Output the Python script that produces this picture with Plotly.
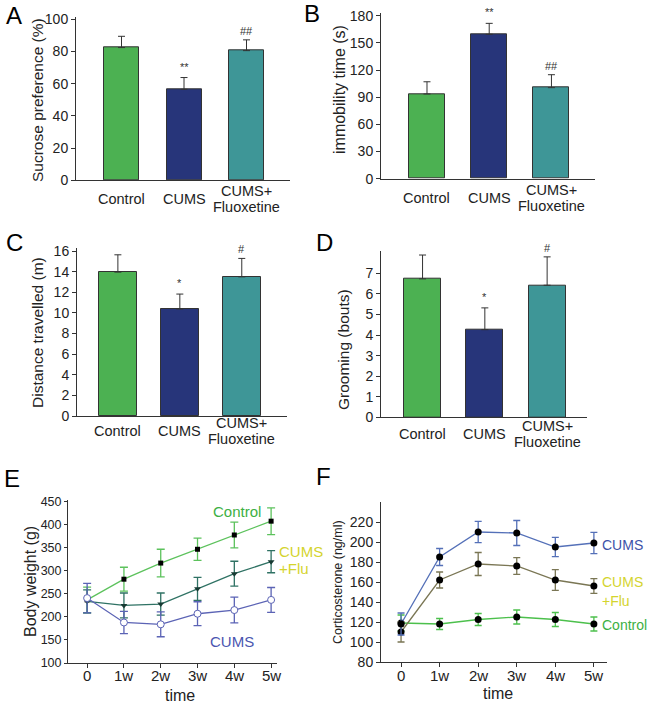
import plotly.graph_objects as go

W, H = 649, 703
def fx(p): return p / W
def fy(p): return 1 - p / H

FONT = "Liberation Sans, Arial, sans-serif"

# ---------------- data ----------------
groups = ["Control", "CUMS", "CUMS+ Fluoxetine"]
group_lines = [["Control"], ["CUMS"], ["CUMS+", "Fluoxetine"]]
bar_colors = ["#4cb152", "#27357a", "#3e9697"]

sucrose = [82.4, 56.5, 80.5]
sucrose_err = [7.0, 7.3, 6.7]
sucrose_sig = ["", "**", "##"]

immobility = [93.5, 159.4, 100.5]
immobility_err = [13.5, 12.1, 14.3]
immobility_sig = ["", "**", "##"]

distance = [13.96, 10.38, 13.5]
distance_err = [1.68, 1.45, 1.79]
distance_sig = ["", "*", "#"]

grooming = [6.73, 4.26, 6.42]
grooming_err = [1.16, 1.06, 1.38]
grooming_sig = ["", "*", "#"]

weeks = [0, 1, 2, 3, 4, 5]
week_labels = ["0", "1w", "2w", "3w", "4w", "5w"]

bw_control = [237, 282, 317, 347, 378, 408]
bw_control_err = [28, 26, 30, 24, 28, 29]
bw_flu = [234, 225, 228, 261, 294, 320]
bw_flu_err = [25, 27, 24, 25, 27, 24]
bw_cums = [241, 188, 184, 207, 215, 237]
bw_cums_err = [32, 24, 27, 26, 28, 27]

cort_cums = [118, 185, 210, 209, 195, 199]
cort_cums_err = [11, 8.5, 10.7, 12.5, 9.7, 10.7]
cort_flu = [110, 162, 178, 176, 162, 156]
cort_flu_err = [10, 8, 11.5, 8.3, 10.3, 7.3]
cort_control = [119, 118, 122.5, 125, 122.5, 118]
cort_control_err = [8, 5.5, 6, 7, 7, 7]

fig = go.Figure()
annotations = []
TXT = "#222"

axis_common = dict(showline=True, linecolor="#333", linewidth=1, showgrid=False,
                   zeroline=False, automargin=False)

def rot_title(text, xc, yc, size):
    return dict(x=fx(xc), y=fy(yc), xref="paper", yref="paper", text=text, textangle=-90,
                showarrow=False, xanchor="center", yanchor="middle",
                font=dict(family=FONT, size=size, color=TXT))

def ptext(text, xp, yp, size, color, xanchor="center"):
    return dict(x=fx(xp), y=fy(yp), xref="paper", yref="paper", text=text, showarrow=False,
                xanchor=xanchor, yanchor="middle", font=dict(family=FONT, size=size, color=color))

# ---------------- bar panels ----------------
bar_panels = [
    dict(n=1, v=sucrose, e=sucrose_err, s=sucrose_sig, xd=(76, 290), yd=(180.3, 17.3),
         xr=[-0.728, 2.696], yr=[0, 101.2], tv=[0, 20, 40, 60, 80, 100],
         title="Sucrose preference (%)", tx=37, ty=100, ts=15.5, ly=199, letter="A", lxy=(14, 15), bw=0.56),
    dict(n=2, v=immobility, e=immobility_err, s=immobility_sig, xd=(381, 595), yd=(178.7, 13.3),
         xr=[-0.739, 2.70], yr=[0, 182.6], tv=[0, 30, 60, 90, 120, 150, 180],
         title="immobility time (s)", tx=340, ty=90, ts=16, ly=198, letter="B", lxy=(312, 13), bw=0.58),
    dict(n=3, v=distance, e=distance_err, s=distance_sig, xd=(77, 287), yd=(416, 248),
         xr=[-0.66, 2.73], yr=[0, 16.3], tv=list(range(0, 17, 2)),
         title="Distance travelled (m)", tx=38, ty=333, ts=15.5, ly=431, letter="C", lxy=(14, 243), bw=0.61),
    dict(n=4, v=grooming, e=grooming_err, s=grooming_sig, xd=(381, 587), yd=(417.3, 250.7),
         xr=[-0.667, 2.64], yr=[0, 8.1], tv=list(range(0, 8)),
         title="Grooming (bouts)", tx=343, ty=350, ts=15.5, ly=434, letter="D", lxy=(324, 242), bw=0.59),
]

for p in bar_panels:
    n = p["n"]
    xa = "x" if n == 1 else f"x{n}"
    ya = "y" if n == 1 else f"y{n}"
    xs = list(range(len(groups)))
    fig.add_trace(go.Bar(
        x=xs, y=p["v"], width=p["bw"], marker=dict(color=bar_colors, line=dict(color="#333", width=1)),
        error_y=dict(type="data", symmetric=False, array=p["e"], arrayminus=[0] * 3,
                     color="#333", thickness=1, width=3.5),
        xaxis=xa, yaxis=ya, showlegend=False, hoverinfo="skip"))
    fig.layout[f"xaxis{'' if n == 1 else n}"] = dict(
        domain=[fx(p["xd"][0]), fx(p["xd"][1])], range=p["xr"], anchor=ya,
        showticklabels=False, ticks="", **axis_common)
    fig.layout[f"yaxis{'' if n == 1 else n}"] = dict(
        domain=[fy(p["yd"][0]), fy(p["yd"][1])], range=p["yr"], anchor=xa,
        tickvals=p["tv"], ticks="outside", ticklen=4, tickcolor="#333",
        tickfont=dict(family=FONT, size=14, color=TXT), **axis_common)
    for i, lines in enumerate(group_lines):
        k = len(lines)
        for j, ln in enumerate(lines):
            off = (j - (k - 1) / 2) * 15.5
            annotations.append(dict(x=i, xref=xa, y=fy(p["ly"] + off), yref="paper", text=ln,
                                    showarrow=False, xanchor="center", yanchor="middle", borderpad=0,
                                    font=dict(family=FONT, size=14.5, color=TXT)))
    for i, s in enumerate(p["s"]):
        if s:
            annotations.append(dict(x=i, xref=xa, y=p["v"][i] + p["e"][i], yref=ya, text=s,
                                    showarrow=False, yanchor="bottom",
                                    yshift=3 if "*" in s else 1,
                                    font=dict(family=FONT, size=11, color="#333")))
    annotations.append(rot_title(p["title"], p["tx"], p["ty"], p["ts"]))
    annotations.append(ptext(p["letter"], p["lxy"][0], p["lxy"][1], 24, "#000"))

# ---------------- panel E ----------------
def line_trace(x, y, err, color, marker, xa, ya, cap=4):
    return go.Scatter(x=x, y=y, mode="lines+markers", line=dict(color=color, width=1.3),
                      marker=marker,
                      error_y=dict(type="data", array=err, color=color, thickness=1.3, width=cap),
                      xaxis=xa, yaxis=ya, showlegend=False, hoverinfo="skip")

fig.add_trace(line_trace(weeks, bw_control, bw_control_err, "#5cc25c",
                         dict(symbol="square", size=5, color="#000"), "x5", "y5"))
fig.add_trace(line_trace(weeks, bw_flu, bw_flu_err, "#2f7264",
                         dict(symbol="triangle-down", size=6, color="#163a32"), "x5", "y5"))
fig.add_trace(line_trace(weeks, bw_cums, bw_cums_err, "#5b63b5",
                         dict(symbol="circle", size=7, color="#fff", line=dict(color="#5b63b5", width=1)), "x5", "y5"))

fig.layout["xaxis5"] = dict(domain=[fx(68), fx(277)], range=[-0.52, 5.16], anchor="y5",
                            tickvals=weeks, showticklabels=False, ticks="outside", ticklen=4,
                            tickcolor="#333", **axis_common)
fig.layout["yaxis5"] = dict(domain=[fy(663), fy(500)], range=[100, 454], anchor="x5",
                            tickvals=list(range(100, 451, 50)), ticks="outside", ticklen=3, tickcolor="#333",
                            tickfont=dict(family=FONT, size=12.5, color=TXT), **axis_common)
for wv, wl in zip(weeks, week_labels):
    annotations.append(dict(x=wv, xref="x5", y=fy(675), yref="paper", text=wl, showarrow=False,
                            xanchor="center", yanchor="middle", font=dict(family=FONT, size=15, color=TXT)))
annotations += [
    rot_title("Body weight (g)", 30, 582, 16),
    ptext("time", 180, 695, 16, TXT),
    ptext("Control", 237, 511, 15, "#3cb043"),
    ptext("CUMS", 277, 551, 15, "#d4d42e", "left"),
    ptext("+Flu", 277, 568, 15, "#d4d42e", "left"),
    ptext("CUMS", 232, 641, 15, "#4a55b0"),
    ptext("E", 12, 478, 24, "#000"),
]

# ---------------- panel F ----------------
blk = dict(symbol="circle", size=7, color="#000")
fig.add_trace(line_trace(weeks, cort_control, cort_control_err, "#4cc04c", blk, "x6", "y6", 3.5))
fig.add_trace(line_trace(weeks, cort_flu, cort_flu_err, "#7a7654", blk, "x6", "y6", 3.5))
fig.add_trace(line_trace(weeks, cort_cums, cort_cums_err, "#5470b8", blk, "x6", "y6", 3.5))

fig.layout["xaxis6"] = dict(domain=[fx(381), fx(607)], range=[-0.52, 5.34], anchor="y6",
                            tickvals=weeks, showticklabels=False, ticks="outside", ticklen=4,
                            tickcolor="#333", **axis_common)
fig.layout["yaxis6"] = dict(domain=[fy(662), fy(502.3)], range=[80, 239.7], anchor="x6",
                            tickvals=list(range(80, 221, 20)), ticks="outside", ticklen=4, tickcolor="#333",
                            tickfont=dict(family=FONT, size=14, color=TXT), **axis_common)
for wv, wl in zip(weeks, week_labels):
    annotations.append(dict(x=wv, xref="x6", y=fy(675), yref="paper", text=wl, showarrow=False,
                            xanchor="center", yanchor="middle", font=dict(family=FONT, size=15, color=TXT)))
annotations += [
    rot_title("Corticosterone (ng/ml)", 338, 582, 12.5),
    ptext("time", 498, 693, 16, TXT),
    ptext("CUMS", 600, 545, 14, "#3d52a8", "left"),
    ptext("CUMS", 600, 582, 14, "#d4d42e", "left"),
    ptext("+Flu", 600, 601, 14, "#d4d42e", "left"),
    ptext("Control", 649, 625, 14, "#3cb043", "right"),
    ptext("F", 323, 476, 24, "#000"),
]

fig.update_layout(width=W, height=H, margin=dict(l=0, r=0, t=0, b=0, autoexpand=False),
                  paper_bgcolor="white", plot_bgcolor="white", template="none",
                  annotations=annotations, bargap=0, font=dict(family=FONT))
fig.write_html("out.html", config={"displayModeBar": False},
               post_script="document.body.style.margin='0';document.body.style.overflow='hidden';")
